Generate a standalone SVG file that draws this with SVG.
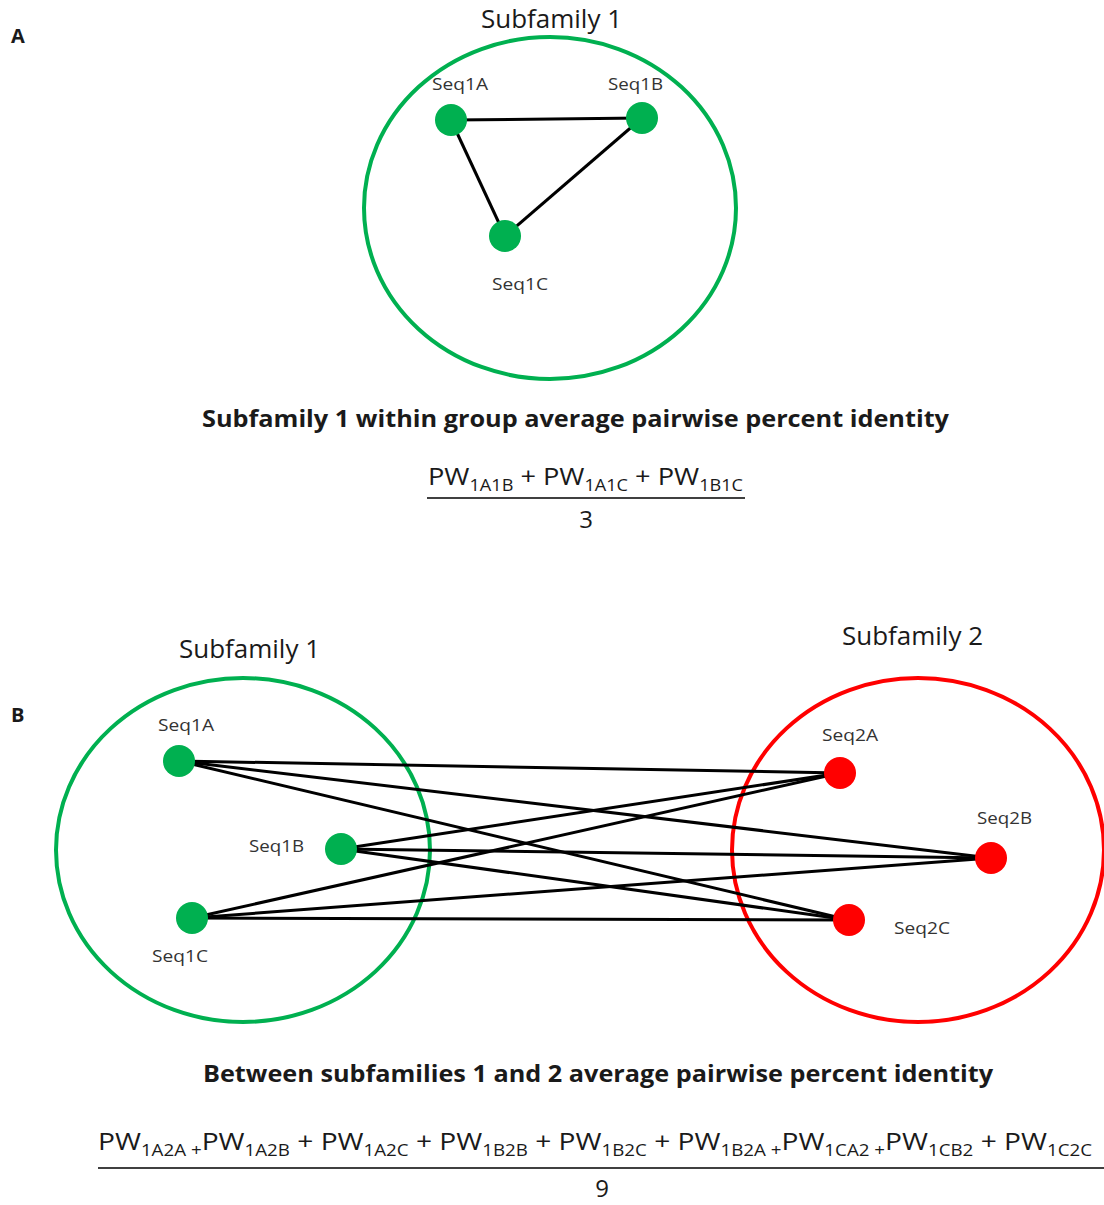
<svg xmlns="http://www.w3.org/2000/svg" width="1104" height="1205" viewBox="0 0 1104 1205">
<style>
text{font-family:"Open Sans","Liberation Sans",sans-serif;fill:#1a1a1a}
.lbl{font-size:16.5px;fill:#333}
.title{font-size:25px}
.head{font-size:24px;font-weight:bold}
.panel{font-size:20px;font-weight:bold}
.eq{font-size:24px}
.sub{font-size:16px}
.g{fill:#00B050}
.r{fill:#FF0000}
.ring-g{fill:none;stroke:#00B050;stroke-width:4}
.ring-r{fill:none;stroke:#FF0000;stroke-width:4}
.edge{stroke:#000;stroke-width:3;fill:none}
.bar{stroke:#000;stroke-width:1.5}
</style>
<rect width="1104" height="1205" fill="#fff"/>

<!-- Panel A -->
<text class="panel" x="11" y="43">A</text>
<g id="subfamilyA">
<ellipse class="ring-g" cx="550" cy="208" rx="186" ry="171"/>
<text class="title" x="481" y="28" textLength="141" lengthAdjust="spacingAndGlyphs">Subfamily 1</text>
</g>
<g id="edgesA">
<line class="edge" x1="451" y1="120" x2="642" y2="118"/>
<line class="edge" x1="451" y1="120" x2="505" y2="236"/>
<line class="edge" x1="642" y1="118" x2="505" y2="236"/>
</g>
<g id="A-seq1A"><circle class="g" cx="451" cy="120" r="16"/><text class="lbl" x="432" y="90" textLength="56" lengthAdjust="spacingAndGlyphs">Seq1A</text></g>
<g id="A-seq1B"><circle class="g" cx="642" cy="118" r="16"/><text class="lbl" x="608" y="90" textLength="55" lengthAdjust="spacingAndGlyphs">Seq1B</text></g>
<g id="A-seq1C"><circle class="g" cx="505" cy="236" r="16"/><text class="lbl" x="492" y="290" textLength="56" lengthAdjust="spacingAndGlyphs">Seq1C</text></g>

<g id="formulaA">
<text class="head" x="202" y="427" textLength="747" lengthAdjust="spacingAndGlyphs">Subfamily 1 within group average pairwise percent identity</text>
<text class="eq" x="428" y="485" textLength="315" lengthAdjust="spacingAndGlyphs">PW<tspan class="sub" dy="6">1A1B</tspan><tspan dy="-6"> + PW</tspan><tspan class="sub" dy="6">1A1C</tspan><tspan dy="-6"> + PW</tspan><tspan class="sub" dy="6">1B1C</tspan></text>
<line class="bar" x1="427" y1="498" x2="745" y2="498"/>
<text class="eq" x="586" y="528" text-anchor="middle">3</text>
</g>

<!-- Panel B -->
<text class="panel" x="11" y="722">B</text>
<g id="subfamilyB1">
<ellipse class="ring-g" cx="243" cy="850" rx="187" ry="172"/>
<text class="title" x="179" y="658" textLength="141" lengthAdjust="spacingAndGlyphs">Subfamily 1</text>
</g>
<g id="subfamilyB2">
<ellipse class="ring-r" cx="918" cy="850" rx="186" ry="172"/>
<text class="title" x="842" y="645" textLength="141" lengthAdjust="spacingAndGlyphs">Subfamily 2</text>
</g>
<g id="edgesB">
<line class="edge" x1="179" y1="761" x2="840" y2="773"/>
<line class="edge" x1="179" y1="761" x2="991" y2="858"/>
<line class="edge" x1="179" y1="761" x2="849" y2="920"/>
<line class="edge" x1="341" y1="849" x2="840" y2="773"/>
<line class="edge" x1="341" y1="849" x2="991" y2="858"/>
<line class="edge" x1="341" y1="849" x2="849" y2="920"/>
<line class="edge" x1="192" y1="918" x2="840" y2="773"/>
<line class="edge" x1="192" y1="918" x2="991" y2="858"/>
<line class="edge" x1="192" y1="918" x2="849" y2="920"/>
</g>
<g id="B-seq1A"><circle class="g" cx="179" cy="761" r="16"/><text class="lbl" x="158" y="731" textLength="56" lengthAdjust="spacingAndGlyphs">Seq1A</text></g>
<g id="B-seq1B"><circle class="g" cx="341" cy="849" r="16"/><text class="lbl" x="249" y="852" textLength="55" lengthAdjust="spacingAndGlyphs">Seq1B</text></g>
<g id="B-seq1C"><circle class="g" cx="192" cy="918" r="16"/><text class="lbl" x="152" y="962" textLength="56" lengthAdjust="spacingAndGlyphs">Seq1C</text></g>
<g id="B-seq2A"><circle class="r" cx="840" cy="773" r="16"/><text class="lbl" x="822" y="741" textLength="56" lengthAdjust="spacingAndGlyphs">Seq2A</text></g>
<g id="B-seq2B"><circle class="r" cx="991" cy="858" r="16"/><text class="lbl" x="977" y="824" textLength="55" lengthAdjust="spacingAndGlyphs">Seq2B</text></g>
<g id="B-seq2C"><circle class="r" cx="849" cy="920" r="16"/><text class="lbl" x="894" y="934" textLength="56" lengthAdjust="spacingAndGlyphs">Seq2C</text></g>

<g id="formulaB">
<text class="head" x="203" y="1082" textLength="790" lengthAdjust="spacingAndGlyphs">Between subfamilies 1 and 2 average pairwise percent identity</text>
<text class="eq" x="98" y="1150" textLength="994" lengthAdjust="spacingAndGlyphs">PW<tspan class="sub" dy="6">1A2A +</tspan><tspan dy="-6">PW</tspan><tspan class="sub" dy="6">1A2B</tspan><tspan dy="-6"> + PW</tspan><tspan class="sub" dy="6">1A2C</tspan><tspan dy="-6"> + PW</tspan><tspan class="sub" dy="6">1B2B</tspan><tspan dy="-6">  + PW</tspan><tspan class="sub" dy="6">1B2C</tspan><tspan dy="-6">  + PW</tspan><tspan class="sub" dy="6">1B2A +</tspan><tspan dy="-6">PW</tspan><tspan class="sub" dy="6">1CA2 +</tspan><tspan dy="-6">PW</tspan><tspan class="sub" dy="6">1CB2</tspan><tspan dy="-6">  + PW</tspan><tspan class="sub" dy="6">1C2C</tspan></text>
<line class="bar" x1="98" y1="1168" x2="1104" y2="1168"/>
<text class="eq" x="602" y="1197" text-anchor="middle">9</text>
</g>
</svg>
